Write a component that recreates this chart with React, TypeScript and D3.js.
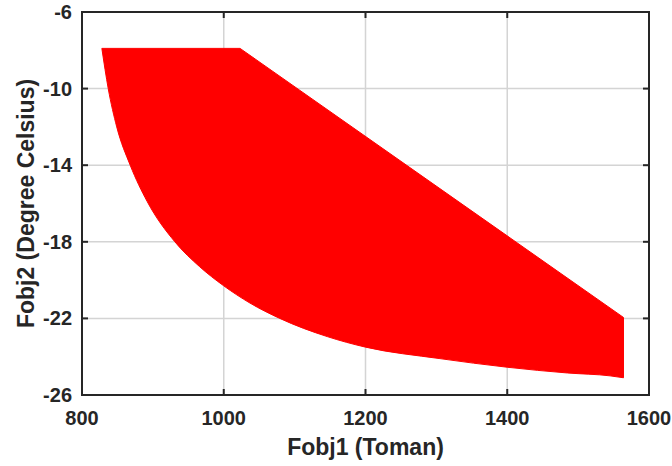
import * as d3 from 'd3';
import { useEffect, useRef } from 'react';

// upper (right) edge of the red region, Fobj1 vs Fobj2
const upperX = [828, 1023, 1564];
const upperY = [-7.9, -7.9, -21.95];

// lower (left / bottom) edge of the red region
const lowerX = [828, 837, 849, 868, 892, 931, 966, 1000, 1037, 1079, 1146, 1200, 1305, 1400, 1485, 1545, 1564];
const lowerY = [-7.9, -10, -12, -14, -15.9, -18, -19.3, -20.3, -21.2, -22, -22.95, -23.5, -24.1, -24.55, -24.85, -25.0, -25.1];

const xTicks = [800, 1000, 1200, 1400, 1600];
const yTicks = [-26, -22, -18, -14, -10, -6];

export default function App() {
  const ref = useRef<SVGSVGElement | null>(null);

  useEffect(() => {
    const svg = d3.select(ref.current);
    svg.selectAll('*').remove();

    const width = 672, height = 466;
    const margin = { top: 12, right: 23, bottom: 71, left: 82 };
    const font = '"Liberation Sans", Arial, sans-serif';

    const x = d3.scaleLinear().domain([800, 1600]).range([margin.left, width - margin.right]);
    const y = d3.scaleLinear().domain([-26, -6]).range([height - margin.bottom, margin.top]);

    svg.append('rect').attr('width', width).attr('height', height).attr('fill', '#fff');

    // grid
    const grid = svg.append('g').attr('stroke', '#d4d4d4').attr('stroke-width', 1.5);
    grid.selectAll('.gx').data(xTicks.slice(1, -1)).join('line')
      .attr('x1', (d) => x(d)).attr('x2', (d) => x(d))
      .attr('y1', y(-26)).attr('y2', y(-6));
    grid.selectAll('.gy').data(yTicks.slice(1, -1)).join('line')
      .attr('y1', (d) => y(d)).attr('y2', (d) => y(d))
      .attr('x1', x(800)).attr('x2', x(1600));

    // region: smooth lower edge left->right, then straight upper edge back
    const lowerPts = lowerX.map((v, i) => [v, lowerY[i]] as [number, number]);
    const upperPts = upperX.map((v, i) => [v, upperY[i]] as [number, number]).reverse();
    const lowerPath = d3.line<[number, number]>()
      .x((d) => x(d[0])).y((d) => y(d[1]))
      .curve(d3.curveMonotoneX)(lowerPts);
    const upperPath = upperPts.map((d) => `L${x(d[0])},${y(d[1])}`).join('');
    svg.append('path').attr('d', lowerPath + upperPath + 'Z')
      .attr('fill', '#ff0000').attr('stroke', '#ff0000').attr('stroke-width', 1);

    // box + ticks (inward, all four sides)
    const axis = svg.append('g').attr('stroke', '#262626').attr('stroke-width', 2).attr('fill', 'none');
    axis.append('rect')
      .attr('x', x(800)).attr('y', y(-6))
      .attr('width', x(1600) - x(800)).attr('height', y(-26) - y(-6));
    const tl = 6;
    xTicks.forEach((t) => {
      axis.append('line').attr('x1', x(t)).attr('x2', x(t)).attr('y1', y(-26)).attr('y2', y(-26) - tl);
      axis.append('line').attr('x1', x(t)).attr('x2', x(t)).attr('y1', y(-6)).attr('y2', y(-6) + tl);
    });
    yTicks.forEach((t) => {
      axis.append('line').attr('y1', y(t)).attr('y2', y(t)).attr('x1', x(800)).attr('x2', x(800) + tl);
      axis.append('line').attr('y1', y(t)).attr('y2', y(t)).attr('x1', x(1600)).attr('x2', x(1600) - tl);
    });

    const labels = svg.append('g').attr('font-family', font).attr('font-weight', 'bold').attr('fill', '#262626');
    labels.selectAll('.xl').data(xTicks).join('text')
      .attr('x', (d) => x(d)).attr('y', y(-26) + 30)
      .attr('text-anchor', 'middle').attr('font-size', 20)
      .text((d) => d);
    labels.selectAll('.yl').data(yTicks).join('text')
      .attr('x', x(800) - 10).attr('y', (d) => y(d) + 7)
      .attr('text-anchor', 'end').attr('font-size', 20)
      .text((d) => d);

    labels.append('text')
      .attr('x', (x(800) + x(1600)) / 2).attr('y', height - 11)
      .attr('text-anchor', 'middle').attr('font-size', 23)
      .text('Fobj1 (Toman)');
    labels.append('text')
      .attr('transform', `translate(34,${(y(-6) + y(-26)) / 2}) rotate(-90)`)
      .attr('text-anchor', 'middle').attr('font-size', 23)
      .text('Fobj2 (Degree Celsius)');
  }, []);

  return (
    <>
      <style>{'body{margin:0}'}</style>
      <svg ref={ref} width={672} height={466} style={{ display: 'block' }} />
    </>
  );
}
